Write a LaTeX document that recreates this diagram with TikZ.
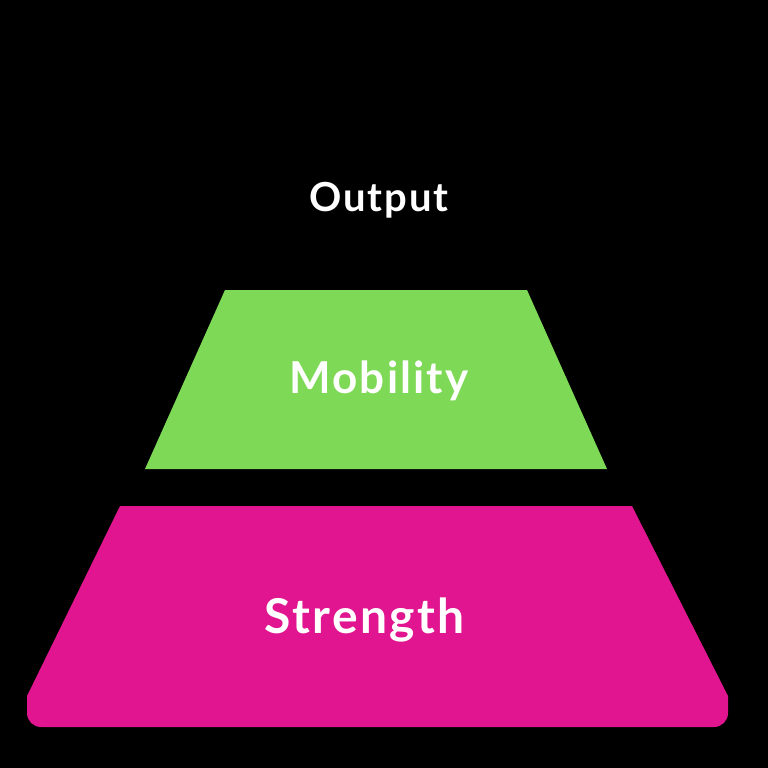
\documentclass[tikz,border=0pt]{standalone}
\usepackage{fontspec}
\setmainfont{Lato}[LetterSpace=5]
\definecolor{pgreen}{HTML}{7ED957}
\definecolor{pmag}{HTML}{E0158F}
\begin{document}
\begin{tikzpicture}[x=1pt,y=-1pt,
  lbl/.style={text=white,font=\bfseries,inner sep=0pt,anchor=base}]
\fill[black] (0,0) rectangle (768,768);
\useasboundingbox (0,0) rectangle (768,768);
\fill[pgreen] (225,290) -- (527,290) -- (607,469) -- (145,469) -- cycle;
\fill[pmag] (120,506) -- (632,506) -- (728,696) [rounded corners=14pt] -- (728,727) -- (27,727) [sharp corners] -- (27,696) -- cycle;
\node[lbl,font=\fontsize{40}{48}\selectfont\bfseries] (out) at (379,211) {Output};
\node[lbl,font=\fontsize{44}{52}\selectfont\bfseries] (mob) at (379,393) {Mobility};
\node[lbl,font=\fontsize{48}{56}\selectfont\bfseries] (str) at (365,633) {Strength};
\end{tikzpicture}
\end{document}
